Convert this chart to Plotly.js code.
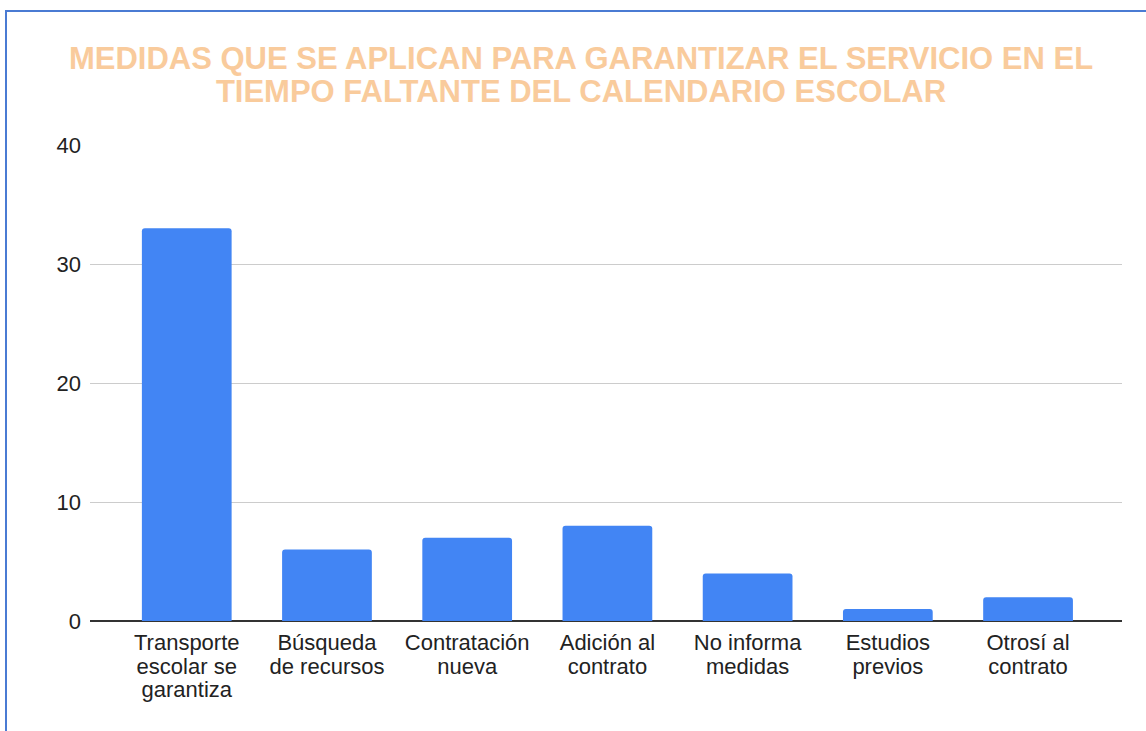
<!DOCTYPE html>
<html>
<head>
<meta charset="utf-8">
<script src="https://cdn.plot.ly/plotly-3.0.1.min.js"></script>
<style>
  body { margin: 0; background: #fff; }
  #chart { position: absolute; left: 0; top: 0; width: 1146px; height: 731px; }
  #frame { position: absolute; left: 5px; top: 10px; width: 1160px; height: 740px;
           border-top: 2px solid #4a7bd3; border-left: 2px solid #4a7bd3; pointer-events: none; }
</style>
</head>
<body>
<div id="chart"></div>
<div id="frame"></div>
<script>
const chartTitle = 'MEDIDAS QUE SE APLICAN PARA GARANTIZAR EL SERVICIO EN EL<br>TIEMPO FALTANTE DEL CALENDARIO ESCOLAR';
const categories = [
    'Transporte<br>escolar se<br>garantiza',
    'Búsqueda<br>de recursos',
    'Contratación<br>nueva',
    'Adición al<br>contrato',
    'No informa<br>medidas',
    'Estudios<br>previos',
    'Otrosí al<br>contrato'
];
const counts = [33, 6, 7, 8, 4, 1, 2];
const yTicks = [0, 10, 20, 30, 40];

const font = 'Arial, "Liberation Sans", sans-serif';

const traces = [{
    x: categories,
    y: counts,
    type: 'bar',
    marker: {color: '#4285f4', cornerradius: 3},
    hoverinfo: 'x+y'
}];

const layout = {
    width: 1146,
    height: 731,
    margin: {l: 90, r: 24, t: 145, b: 110},
    paper_bgcolor: '#fff',
    plot_bgcolor: '#fff',
    font: {family: font, color: '#222', size: 22},
    title: {
        text: chartTitle,
        font: {family: font, size: 31, color: '#f9cb9c', weight: 'bold'},
        xref: 'container',
        x: 581 / 1146,
        xanchor: 'center',
        yref: 'container',
        y: 1 - 69 / 731,
        yanchor: 'top'
    },
    bargap: 0.36,
    xaxis: {
        type: 'category',
        range: [-0.69, 6.67],
        showgrid: false,
        showline: false,
        ticks: '',
        ticklabelstandoff: 6,
        tickfont: {size: 22, color: '#222'}
    },
    yaxis: {
        range: [0, 40],
        tickvals: yTicks,
        showgrid: true,
        gridcolor: '#cccccc',
        gridwidth: 1,
        zeroline: true,
        zerolinecolor: '#333',
        zerolinewidth: 2,
        ticks: '',
        ticklabelstandoff: 8,
        tickfont: {size: 22, color: '#222'}
    },
    showlegend: false
};

// google charts use a tighter line height than plotly's 1.3em
function tightenLines(gd, em) {
    gd.querySelectorAll('text').forEach(t => {
        const lines = t.querySelectorAll('tspan.line');
        lines.forEach((ln, i) => ln.setAttribute('dy', (i * em) + 'em'));
    });
}

Plotly.newPlot('chart', traces, layout, {displayModeBar: false}).then(gd => tightenLines(gd, 1.07));
</script>
</body>
</html>
